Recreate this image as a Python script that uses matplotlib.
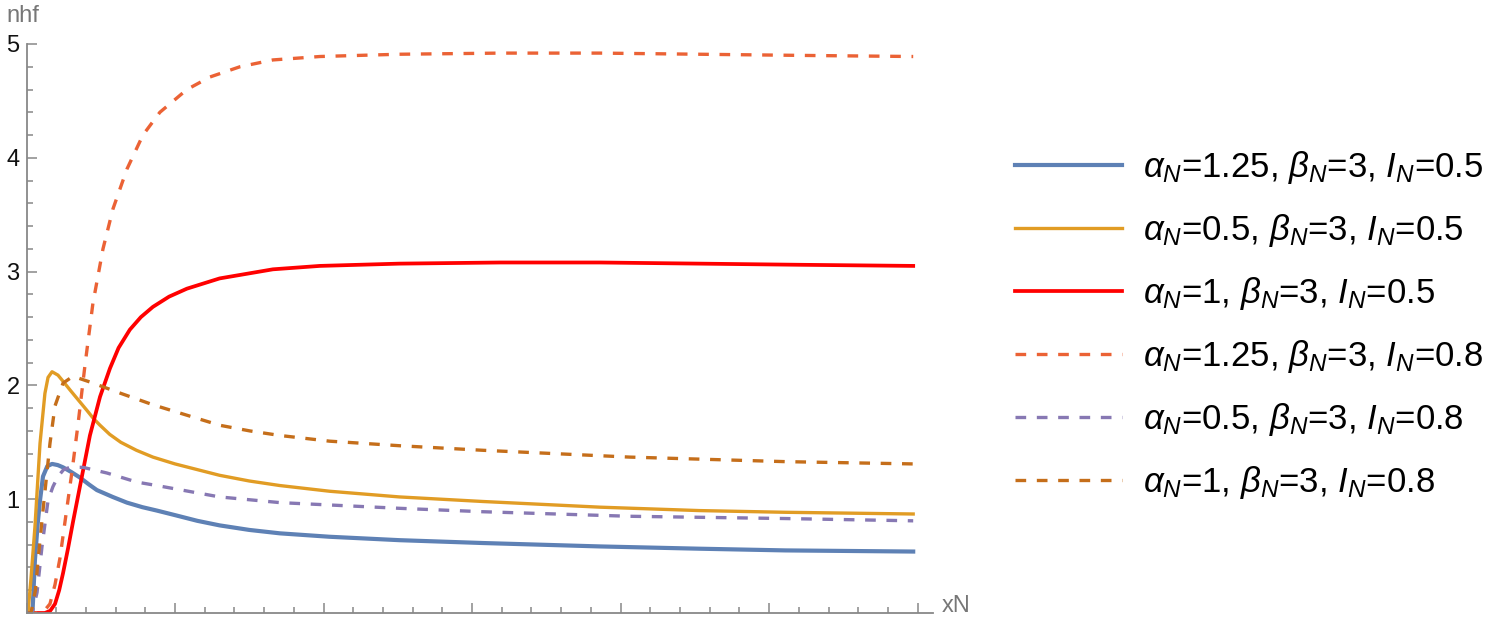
import numpy as np
import matplotlib
matplotlib.use("Agg")
import matplotlib.pyplot as plt
from matplotlib.ticker import MultipleLocator, NullFormatter

plt.rcParams['font.family'] = ['Liberation Sans', 'DejaVu Sans']
plt.rcParams['mathtext.fontset'] = 'custom'
plt.rcParams['mathtext.rm'] = 'Liberation Sans'
plt.rcParams['mathtext.it'] = 'Liberation Sans:italic'

# curves (x in major-tick units, y = nhf)
x_blue = [0, 0.04, 0.057, 0.075, 0.091, 0.111, 0.14, 0.172, 0.21, 0.246, 0.30, 0.36, 0.42, 0.474, 0.58, 0.676,
          0.78, 0.878, 1.0, 1.15, 1.30, 1.50, 1.706, 2.04, 2.51, 3.07, 3.86, 4.53, 5.11, 5.97]
y_blue = [0, 0, 0.47, 0.78, 0.99, 1.20, 1.29, 1.31, 1.30, 1.28, 1.24, 1.19, 1.13, 1.08, 1.02, 0.97,
          0.93, 0.90, 0.86, 0.81, 0.77, 0.73, 0.70, 0.67, 0.64, 0.615, 0.585, 0.565, 0.55, 0.54]

x_orange = [0, 0.01, 0.03, 0.057, 0.091, 0.124, 0.145, 0.172, 0.212, 0.25, 0.293, 0.35, 0.407, 0.45, 0.495,
            0.56, 0.635, 0.74, 0.851, 1.0, 1.15, 1.30, 1.50, 1.706, 2.04, 2.51, 3.07, 3.86, 4.53, 5.11, 5.97]
y_orange = [0, 0, 0.3, 0.76, 1.49, 1.93, 2.07, 2.12, 2.09, 2.03, 1.96, 1.87, 1.78, 1.71, 1.65,
            1.57, 1.50, 1.43, 1.37, 1.31, 1.26, 1.21, 1.16, 1.12, 1.07, 1.02, 0.98, 0.93, 0.90, 0.885, 0.87]

x_red = [0, 0.124, 0.16, 0.192, 0.22, 0.246, 0.28, 0.313, 0.373, 0.427, 0.495, 0.562, 0.62, 0.696, 0.77,
         0.851, 0.96, 1.08, 1.30, 1.659, 1.975, 2.51, 3.19, 3.86, 4.53, 5.2, 5.97]
y_red = [0, 0, 0.02, 0.08, 0.2, 0.35, 0.57, 0.80, 1.20, 1.56, 1.90, 2.15, 2.33, 2.49, 2.60,
         2.69, 2.78, 2.85, 2.94, 3.02, 3.05, 3.07, 3.08, 3.08, 3.07, 3.06, 3.05]

x_red_d = [0, 0.077, 0.12, 0.158, 0.192, 0.225, 0.259, 0.306, 0.347, 0.394, 0.447, 0.515, 0.582, 0.676,
           0.784, 0.898, 1.08, 1.235, 1.437, 1.659, 1.975, 2.51, 3.19, 3.86, 4.53, 5.2, 5.97]
y_red_d = [0, 0, 0.02, 0.08, 0.25, 0.48, 0.80, 1.24, 1.66, 2.18, 2.72, 3.2, 3.55, 3.9,
           4.2, 4.4, 4.6, 4.71, 4.8, 4.86, 4.89, 4.91, 4.92, 4.92, 4.91, 4.90, 4.89]

x_purple = [0, 0.037, 0.071, 0.104, 0.145, 0.178, 0.212, 0.25, 0.293, 0.38, 0.542, 0.744, 0.878, 1.30,
            1.706, 2.51, 3.07, 4.06, 5.11, 5.97]
y_purple = [0, 0, 0.18, 0.58, 0.99, 1.11, 1.20, 1.26, 1.28, 1.28, 1.23, 1.15, 1.12, 1.02,
            0.97, 0.92, 0.89, 0.85, 0.83, 0.81]

x_brown = [0, 0.03, 0.06, 0.08, 0.111, 0.158, 0.192, 0.246, 0.313, 0.427, 0.635, 0.851, 1.0, 1.30,
           1.504, 1.706, 2.04, 2.51, 3.07, 4.06, 5.11, 5.97]
y_brown = [0, 0, 0.2, 0.5, 0.9, 1.49, 1.82, 2.02, 2.08, 2.03, 1.93, 1.83, 1.77, 1.65,
           1.60, 1.56, 1.51, 1.47, 1.43, 1.37, 1.33, 1.31]

labels = [r'$\alpha_N$=1.25, $\beta_N$=3, $I_N$=0.5',
          r'$\alpha_N$=0.5, $\beta_N$=3, $I_N$=0.5',
          r'$\alpha_N$=1, $\beta_N$=3, $I_N$=0.5',
          r'$\alpha_N$=1.25, $\beta_N$=3, $I_N$=0.8',
          r'$\alpha_N$=0.5, $\beta_N$=3, $I_N$=0.8',
          r'$\alpha_N$=1, $\beta_N$=3, $I_N$=0.8']

fig = plt.figure(figsize=(14.98, 6.28), dpi=100)
ax = fig.add_axes([26.5 / 1498, 15 / 628, 906 / 1498, 569 / 628])

dash = (3.2, 3.2)
ax.plot(x_blue, y_blue, color='#5E81B5', lw=3.0, label=labels[0])
ax.plot(x_orange, y_orange, color='#E19C24', lw=2.4, label=labels[1])
ax.plot(x_red, y_red, color='#FF0000', lw=2.7, label=labels[2])
ax.plot(x_red_d, y_red_d, color='#EB6235', lw=2.4, dashes=dash, label=labels[3])
ax.plot(x_purple, y_purple, color='#8778B3', lw=2.4, dashes=dash, label=labels[4])
ax.plot(x_brown, y_brown, color='#C56E1A', lw=2.4, dashes=dash, label=labels[5])

ax.set_xlim(0, 6.1)
ax.set_ylim(0, 5)
for s in ['top', 'right']:
    ax.spines[s].set_visible(False)
for s in ['left', 'bottom']:
    ax.spines[s].set_color('#888888')
    ax.spines[s].set_linewidth(1.3)

ax.xaxis.set_major_locator(MultipleLocator(1))
ax.xaxis.set_minor_locator(MultipleLocator(0.2))
ax.xaxis.set_major_formatter(NullFormatter())
ax.yaxis.set_minor_locator(MultipleLocator(0.2))
ax.set_yticks([1, 2, 3, 4, 5])
ax.tick_params(which='both', direction='in', color='#888888', width=1.1)
ax.tick_params(which='major', length=7.5)
ax.tick_params(which='minor', length=4.5)
ax.tick_params(axis='y', labelsize=17, pad=5, labelcolor='#111111')

fig.text(6 / 1498, 1 - 16 / 628, 'nhf', fontsize=17, color='#777777', va='center', ha='left')
fig.text(942 / 1498, 1 - 606 / 628, 'xN', fontsize=17, color='#777777', va='center', ha='left')

fig.legend(loc='center left', bbox_to_anchor=(1015 / 1498, 1 - 325 / 628), frameon=False,
           fontsize=25, handlelength=3.08, handletextpad=0.6, labelspacing=0.75,
           borderpad=0, borderaxespad=0)

fig.savefig('out.png', dpi=100)
